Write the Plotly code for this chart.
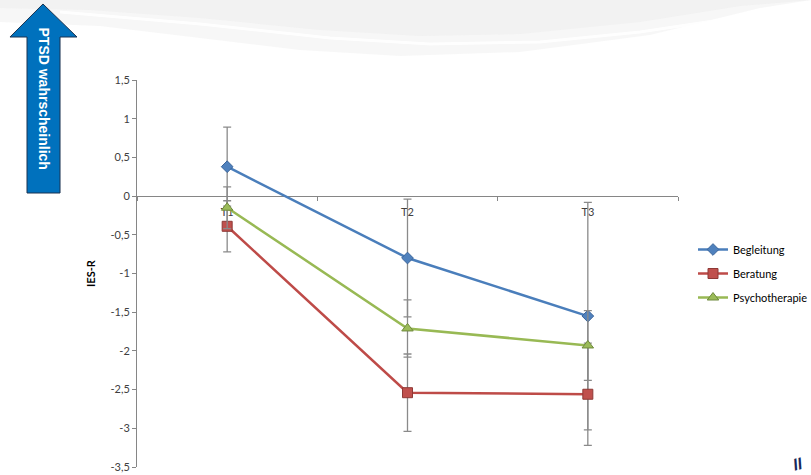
import plotly.graph_objects as go

# ---------------- data ----------------
categories = ["T1", "T2", "T3"]
series_names = ["Begleitung", "Beratung", "Psychotherapie"]
begleitung = [0.38, -0.80, -1.55]
beratung = [-0.39, -2.54, -2.56]
psychotherapie = [-0.15, -1.71, -1.93]
begleitung_err = [0.51, 0.76, 1.47]
beratung_err = [0.33, 0.50, 0.66]
psychotherapie_err = [0.27, 0.37, 0.45]
y_tick_vals = [1.5, 1, 0.5, 0, -0.5, -1, -1.5, -2, -2.5, -3, -3.5]
y_tick_labels = ["1,5", "1", "0,5", "0", "-0,5", "-1", "-1,5", "-2", "-2,5", "-3", "-3,5"]
y_title = "IES-R"
arrow_text = "PTSD wahrscheinlich"

# ---------------- layout geometry ----------------
W, H = 811, 475
L, R, T, B = 137, 133, 80, 8
PW, PH = W - L - R, H - T - B
y_min, y_max = -3.5, 1.5


def px(x):
    return (x - L) / PW


def py(y):
    return (H - B - y) / PH


def path(points, close=True):
    s = "M " + " L ".join(f"{px(x):.4f},{py(y):.4f}" for x, y in points)
    return s + (" Z" if close else "")


styles = [
    dict(line="#4A7EBB", fill="#4F81BD", edge="#3A649A", symbol="diamond", size=9),
    dict(line="#BE4B48", fill="#C0504D", edge="#8E3936", symbol="square", size=10),
    dict(line="#98B954", fill="#9BBB59", edge="#6F8A3C", symbol="triangle-up", size=10),
]
values = [begleitung, beratung, psychotherapie]
errors = [begleitung_err, beratung_err, psychotherapie_err]

fig = go.Figure()
for i, (name, vals, errs, st) in enumerate(zip(series_names, values, errors, styles)):
    fig.add_trace(go.Scatter(
        x=categories, y=vals, name=name, mode="lines+markers",
        line=dict(color=st["line"], width=2.5),
        marker=dict(symbol=st["symbol"], size=st["size"], color=st["fill"],
                    line=dict(color=st["edge"], width=1)),
        error_y=dict(type="data", array=errs, visible=True, color="#8A8A8A",
                     thickness=1.3, width=4),
        legendgroup=name,
    ))

# background swooshes (slide design)
shapes = []
shapes.append(dict(type="path", xref="paper", yref="paper", layer="below",
                   path=path([(0, 0), (811, 0), (811, 0), (760, 8), (650, 35), (520, 52), (400, 56),
                              (300, 50), (200, 38), (100, 26), (0, 22)]),
                   fillcolor="#f2f2f2", opacity=0.6, line=dict(width=0)))
shapes.append(dict(type="path", xref="paper", yref="paper", layer="below",
                   path=path([(0, 0), (811, 0), (811, 0), (740, 6), (640, 22), (520, 34), (420, 36),
                              (320, 30), (200, 18), (90, 10), (0, 8)]),
                   fillcolor="#ececec", opacity=0.45, line=dict(width=0)))
shapes.append(dict(type="path", xref="paper", yref="paper", layer="below",
                   path=path([(60, 12), (200, 24), (330, 38), (430, 44), (540, 42), (640, 32), (720, 20),
                              (780, 10)], close=False),
                   line=dict(color="#ffffff", width=3), opacity=0.9))
# blue arrow
shapes.append(dict(type="path", xref="paper", yref="paper",
                   path=path([(43, 4), (77, 37), (60, 37), (60, 193), (27, 193), (27, 37), (10, 37)]),
                   fillcolor="#0071BD", line=dict(color="#1B3350", width=1)))

annotations = [
    dict(text=f"<b>{arrow_text}</b>", xref="paper", yref="paper", x=px(43.5), y=py(98),
         xanchor="center", yanchor="middle",
         showarrow=False, textangle=90, font=dict(family="Liberation Sans", size=14, color="white")),
    dict(text="<b><i>ll</i></b>", xref="paper", yref="paper", x=px(797), y=py(464),
         xanchor="center", yanchor="middle",
         showarrow=False, textangle=-15, font=dict(family="Liberation Sans", size=16, color="#17285A")),
]

fig.update_layout(
    width=W, height=H,
    margin=dict(l=L, r=R, t=T, b=B, pad=0, autoexpand=False),
    paper_bgcolor="white", plot_bgcolor="rgba(0,0,0,0)",
    font=dict(family="Lato", size=11, color="#404040"),
    shapes=shapes, annotations=annotations,
    showlegend=True,
    legend=dict(x=px(693), y=py(235), xanchor="left", yanchor="top",
                font=dict(family="Lato", size=11, color="#000000"),
                bgcolor="rgba(0,0,0,0)", tracegroupgap=5, itemwidth=30),
    xaxis=dict(type="category", categoryorder="array", categoryarray=categories,
               range=[-0.5, 2.5], anchor="free",
               position=(0 - y_min) / (y_max - y_min),
               showline=True, linecolor="#868686", linewidth=1,
               ticks="outside", tickson="boundaries", ticklen=4, tickcolor="#868686",
               showgrid=False, zeroline=False, layer="below traces",
               ticklabelstandoff=6,
               tickfont=dict(family="Lato", size=11, color="#404040")),
    yaxis=dict(range=[y_min, y_max], tickvals=y_tick_vals, ticktext=y_tick_labels,
               showline=True, linecolor="#868686", linewidth=1,
               ticks="outside", ticklen=4, tickcolor="#868686",
               showgrid=False, zeroline=False,
               tickfont=dict(family="Lato", size=11, color="#404040"),
               title=dict(text=f"<b>{y_title}</b>", standoff=12,
                          font=dict(family="Lato", size=11, color="#000000"))),
)

fig.write_html("out.html")
